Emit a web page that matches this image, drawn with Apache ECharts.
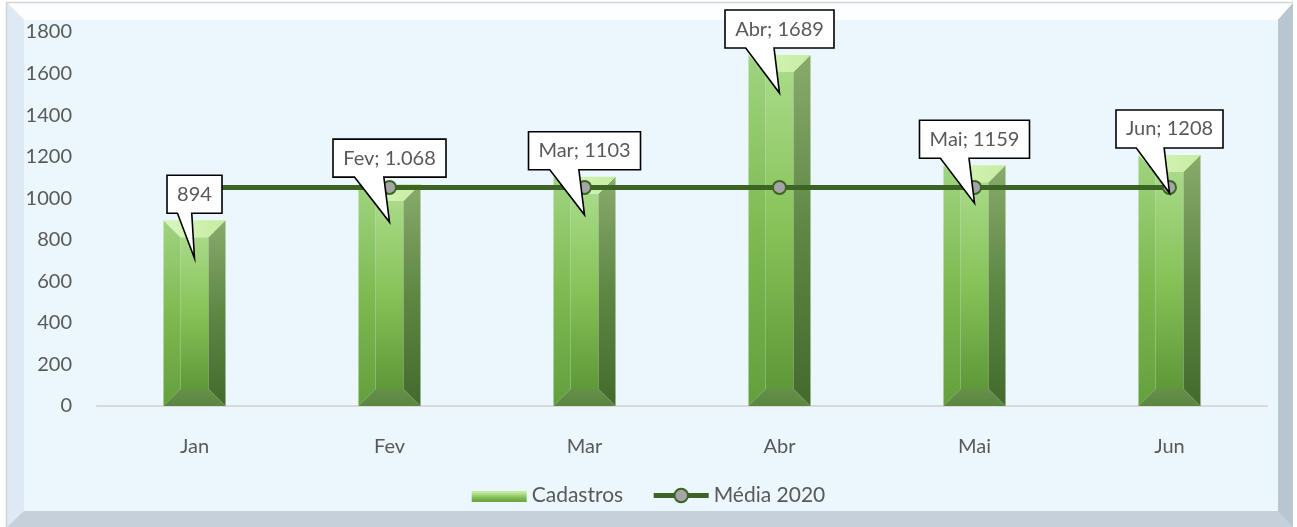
<!DOCTYPE html>
<html>
<head>
<meta charset="utf-8">
<script src="https://cdn.jsdelivr.net/npm/echarts@6/dist/echarts.min.js"></script>
<style>
  html, body { margin: 0; padding: 0; background: #ffffff; }
  #chart { width: 1297px; height: 527px; }
</style>
</head>
<body>
<div id="chart"></div>
<script>
// Monthly registrations and the 2020 average
const months = ['Jan', 'Fev', 'Mar', 'Abr', 'Mai', 'Jun'];
const cadastros = [894, 1068, 1103, 1689, 1159, 1208];
const media2020 = [1052, 1052, 1052, 1052, 1052, 1052];
const calloutLabels = ['894', 'Fev; 1.068', 'Mar; 1103', 'Abr; 1689', 'Mai; 1159', 'Jun; 1208'];
const yMin = 0, yMax = 1800, yStep = 200;

const FONT = 'Lato';
const TEXT = '#595959';
const LINE_GREEN = '#3c6425';

const chart = echarts.init(document.getElementById('chart'), null, { renderer: 'canvas' });

function grad(stops, x2, y2) {
  return new echarts.graphic.LinearGradient(0, 0, x2, y2,
    stops.map((c, i) => ({ offset: i / (stops.length - 1), color: c })));
}

// Bevelled bar: front face, four slanted faces
function renderBar(params, api) {
  const top = api.coord([api.value(0), api.value(1)]);
  const bot = api.coord([api.value(0), 0]);
  const w = api.size([1, 0])[0] * 0.318;
  const x0 = top[0] - w / 2, x1 = top[0] + w / 2;
  const yt = top[1], yb = bot[1];
  const b = Math.min(17, (yb - yt) / 2, w / 2);
  return {
    type: 'group',
    children: [
      { type: 'rect', shape: { x: x0 + b, y: yt + b, width: w - 2 * b, height: yb - yt - 2 * b },
        style: { fill: grad(['#a9da88', '#86c258', '#5f9838'], 0, 1) } },
      { type: 'polygon', shape: { points: [[x0, yt], [x0 + b, yt + b], [x0 + b, yb - b], [x0, yb]] },
        style: { fill: grad(['#a0d481', '#7eba51', '#63a03c'], 0, 1) } },
      { type: 'polygon', shape: { points: [[x1, yt], [x1, yb], [x1 - b, yb - b], [x1 - b, yt + b]] },
        style: { fill: grad(['#88ab6c', '#5e8744', '#436a2c'], 0, 1) } },
      { type: 'polygon', shape: { points: [[x0, yt], [x1, yt], [x1 - b, yt + b], [x0 + b, yt + b]] },
        style: { fill: grad(['#d8f7bb', '#c6eca2'], 1, 0) } },
      { type: 'polygon', shape: { points: [[x0, yb], [x1, yb], [x1 - b, yb - b], [x0 + b, yb - b]] },
        style: { fill: grad(['#668f4a', '#5a8640'], 0, 1) } }
    ]
  };
}

const measureCtx = document.createElement('canvas').getContext('2d');
measureCtx.font = '20px ' + FONT;

// Wedge callout with the bar's label, pointing into the bar top
function renderCallout(params, api) {
  const i = params.dataIndex;
  const p = api.coord([api.value(0), api.value(1)]);
  const text = calloutLabels[i];
  const tw = measureCtx.measureText(text).width;
  const bw = Math.round(tw + 20), bh = 38;
  const cx = p[0];
  const y1 = p[1] - 7, y0 = y1 - bh;
  const x0 = cx - bw / 2, x1 = cx + bw / 2;
  const bl = cx - 0.31 * bw, br = cx - 0.05 * bw;
  const tip = [cx, p[1] + 38];
  return {
    type: 'group',
    children: [
      { type: 'polygon',
        shape: { points: [[x0, y0], [x1, y0], [x1, y1], [br, y1], tip, [bl, y1], [x0, y1]] },
        style: { fill: '#ffffff', stroke: '#000000', lineWidth: 1.6, lineJoin: 'miter' } },
      { type: 'text', x: cx, y: (y0 + y1) / 2,
        style: { text: text, fill: TEXT, fontSize: 20, fontFamily: FONT, align: 'center', verticalAlign: 'middle' } }
    ]
  };
}

const barData = cadastros.map((v, i) => [months[i], v]);

const option = {
  animation: false,
  backgroundColor: '#ffffff',
  textStyle: { fontFamily: FONT, color: TEXT },
  graphic: [
    { type: 'rect', silent: true, shape: { x: 7, y: 3, width: 1286, height: 524 }, style: { fill: '#c6d0da' } },
    { type: 'polygon', silent: true, shape: { points: [[7, 3], [1293, 3], [1278, 20], [24, 20]] }, style: { fill: '#fdfeff' } },
    { type: 'polygon', silent: true, shape: { points: [[7, 3], [24, 20], [24, 511], [7, 527]] }, style: { fill: '#dde9f5' } },
    { type: 'polygon', silent: true, shape: { points: [[1293, 3], [1293, 527], [1278, 511], [1278, 20]] }, style: { fill: '#b9c6d1' } },
    { type: 'rect', silent: true, shape: { x: 24, y: 20, width: 1254, height: 491 }, style: { fill: '#ebf7fd' } },
    { type: 'polyline', silent: true, shape: { points: [[6.5, 527], [6.5, 2.5], [1293, 2.5]] }, style: { stroke: '#d4d4d4', lineWidth: 1.5, fill: null } }
  ],
  grid: { left: 97, right: 30, top: 32, bottom: 121 },
  xAxis: {
    type: 'category',
    data: months,
    axisLine: { lineStyle: { color: '#d9d9d9', width: 2 } },
    axisTick: { show: false },
    axisLabel: { color: TEXT, fontSize: 20, fontFamily: FONT, margin: 31 }
  },
  yAxis: {
    type: 'value',
    min: yMin, max: yMax, interval: yStep,
    axisLine: { show: false },
    axisTick: { show: false },
    splitLine: { show: false },
    axisLabel: { color: TEXT, fontSize: 20, fontFamily: FONT, margin: 25, formatter: v => String(v) }
  },
  legend: {
    top: 480,
    left: 'center',
    itemWidth: 55,
    itemHeight: 17,
    itemGap: 28,
    textStyle: { color: TEXT, fontSize: 21, fontFamily: FONT },
    data: [
      { name: 'Cadastros',
        // flat bar swatch; the two hair-thin corner marks keep the icon box at full height
        icon: 'path://M0,0 L0.01,0 L0,0.01 Z M0,17 L0.01,17 L0,16.99 Z M0,4 L55,4 L55,15 L0,15 Z',
        itemStyle: { color: grad(['#d6f6b6', '#bfe899', '#7cb850', '#5d9736'], 0, 1) } },
      { name: 'Média 2020',
        lineStyle: { width: 5, color: LINE_GREEN },
        itemStyle: { color: '#a5a5a5', borderColor: LINE_GREEN, borderWidth: 2 } }
    ]
  },
  series: [
    {
      name: 'Cadastros',
      type: 'custom',
      z: 1,
      clip: false,
      renderItem: renderBar,
      encode: { x: 0, y: 1 },
      itemStyle: { color: '#7cb850' },
      data: barData
    },
    {
      name: 'Média 2020',
      type: 'line',
      z: 3,
      data: media2020,
      symbol: 'circle',
      symbolSize: 13,
      showAllSymbol: true,
      lineStyle: { color: LINE_GREEN, width: 5 },
      itemStyle: { color: '#a5a5a5', borderColor: LINE_GREEN, borderWidth: 2 }
    },
    {
      name: 'rotulos',
      type: 'custom',
      z: 10,
      clip: false,
      silent: true,
      renderItem: renderCallout,
      encode: { x: 0, y: 1 },
      data: barData
    }
  ]
};

chart.setOption(option);
</script>
</body>
</html>
